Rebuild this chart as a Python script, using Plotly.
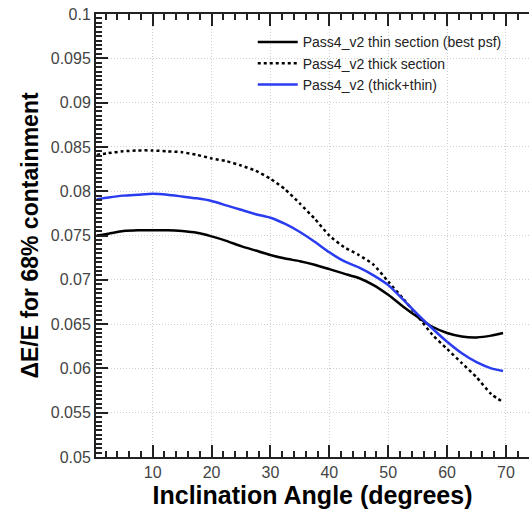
import plotly.graph_objects as go

angle = [0.5, 2.5, 5, 7.5, 10, 12.5, 15, 17.5, 20, 22.5, 25, 27.5, 30, 32.5, 35,
         37.5, 40, 42.5, 45, 47.5, 50, 52.5, 55, 57.5, 60, 62.5, 65, 67.5, 69.5]

thin = [0.0750, 0.0752, 0.0755, 0.0756, 0.0756, 0.0756, 0.0755, 0.0753, 0.0749, 0.0744,
        0.0738, 0.0733, 0.0728, 0.0724, 0.0721, 0.0717, 0.0712, 0.0707, 0.0702, 0.0694,
        0.0683, 0.0670, 0.0658, 0.0647, 0.0640, 0.0636, 0.0635, 0.0637, 0.0640]

thick = [0.0841, 0.0843, 0.0845, 0.0846, 0.0846, 0.0845, 0.0844, 0.0841, 0.0837, 0.0834,
         0.0829, 0.0823, 0.0814, 0.0802, 0.0786, 0.0769, 0.0750, 0.0737, 0.0728, 0.0717,
         0.0698, 0.0679, 0.0659, 0.0638, 0.0622, 0.0606, 0.0590, 0.0571, 0.0562]

combined = [0.0791, 0.0793, 0.0795, 0.0796, 0.0797, 0.0796, 0.0794, 0.0792, 0.0789, 0.0784,
            0.0779, 0.0774, 0.0770, 0.0763, 0.0754, 0.0743, 0.0731, 0.0721, 0.0714, 0.0705,
            0.0694, 0.0678, 0.0661, 0.0645, 0.0630, 0.0617, 0.0607, 0.0600, 0.0597]

y_tickvals = [0.05, 0.055, 0.06, 0.065, 0.07, 0.075, 0.08, 0.085, 0.09, 0.095, 0.1]
y_ticktext = ["0.05", "0.055", "0.06", "0.065", "0.07", "0.075", "0.08", "0.085", "0.09", "0.095", "0.1"]
x_tickvals = [10, 20, 30, 40, 50, 60, 70]

FONT = "Liberation Sans, Arial, Helvetica, sans-serif"

fig = go.Figure()
fig.add_trace(go.Scatter(x=angle, y=thin, mode="lines", name="Pass4_v2 thin section (best psf)",
                         line=dict(color="black", width=2.5, shape="spline", smoothing=0.6)))
fig.add_trace(go.Scatter(x=angle, y=thick, mode="lines", name="Pass4_v2 thick section",
                         line=dict(color="black", width=2.5, dash="3px,3px", shape="spline", smoothing=0.6)))
fig.add_trace(go.Scatter(x=angle, y=combined, mode="lines", name="Pass4_v2 (thick+thin)",
                         line=dict(color="#2a3cf0", width=2.5, shape="spline", smoothing=0.6)))

fig.update_layout(
    width=529, height=514,
    margin=dict(l=96, r=0, t=14, b=57),
    paper_bgcolor="white", plot_bgcolor="white",
    font=dict(family=FONT, color="#333333", size=14),
    showlegend=True,
    legend=dict(x=0.362, y=0.972, xanchor="left", yanchor="top",
                bgcolor="rgba(0,0,0,0)", font=dict(size=14, color="#222222"),
                tracegroupgap=0, itemwidth=40),
)

fig.update_xaxes(
    range=[0.37, 73.91], tickvals=x_tickvals,
    ticks="inside", ticklen=12, tickwidth=2, tickcolor="#222222",
    showline=True, linecolor="#222222", linewidth=2, mirror="ticks",
    showgrid=True, gridcolor="#cfcfcf", griddash="1px,2px", gridwidth=1,
    zeroline=False,
    minor=dict(ticks="inside", ticklen=6, dtick=2, tick0=0, tickcolor="#222222", tickwidth=1.5, showgrid=False),
    tickfont=dict(size=16, color="#444444"),
    title=dict(text="<b>Inclination Angle (degrees)</b>", font=dict(size=25, color="black", family=FONT), standoff=6),
)
fig.update_yaxes(
    range=[0.05, 0.1], tickvals=y_tickvals, ticktext=y_ticktext,
    ticks="inside", ticklen=12, tickwidth=2, tickcolor="#222222",
    showline=True, linecolor="#222222", linewidth=2, mirror=False,
    showgrid=True, gridcolor="#cfcfcf", griddash="1px,2px", gridwidth=1,
    zeroline=False,
    minor=dict(ticks="inside", ticklen=6, dtick=0.0005, tick0=0.05, tickcolor="#222222", tickwidth=1.5, showgrid=False),
    tickfont=dict(size=16, color="#444444"),
    title=dict(text="<b>ΔE/E for 68% containment</b>", font=dict(size=23, color="black", family=FONT), standoff=6),
)

fig.write_html("out.html")
